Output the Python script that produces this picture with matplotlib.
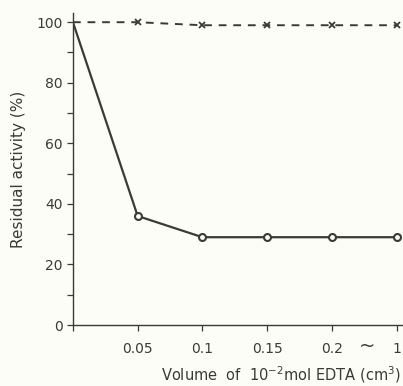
import matplotlib.pyplot as plt
from matplotlib.ticker import MultipleLocator

# Volumen de EDTA (posiciones equiespaciadas en el eje)
etiquetas_x = ['', '0.05', '0.1', '0.15', '0.2', '1']
posiciones = [0, 1, 2, 3, 4, 5]

# Actividad residual (%)
con_edta = [100, 36, 29, 29, 29, 29]
control = [100, 100, 99, 99, 99, 99]

tinta = '#3a3a36'
papel = '#fdfdf8'

fig = plt.figure(figsize=(4.03, 3.86), dpi=100, facecolor=papel)
ax = fig.add_axes([0.181, 0.158, 0.819, 0.808], facecolor=papel)

# Curva de control (discontinua, marcadores x)
ax.plot(posiciones, control, color=tinta, linestyle=(0, (4, 3.5)), linewidth=1.4)
ax.plot(posiciones[1:], control[1:], linestyle='none', marker='x',
        markersize=5, markeredgewidth=1.3, color=tinta)

# Curva con EDTA (continua, círculos abiertos)
ax.plot(posiciones, con_edta, color=tinta, linewidth=1.6)
ax.plot(posiciones[1:], con_edta[1:], linestyle='none', marker='o',
        markersize=5, markerfacecolor=papel, markeredgewidth=1.5, color=tinta)

ax.set_xlim(0, 5.1)
ax.set_ylim(0, 103)
ax.set_xticks(posiciones)
ax.set_xticklabels(etiquetas_x)
ax.yaxis.set_major_locator(MultipleLocator(20))
ax.yaxis.set_minor_locator(MultipleLocator(10))

for lado in ['top', 'right']:
    ax.spines[lado].set_visible(False)
for lado in ['left', 'bottom']:
    ax.spines[lado].set_color(tinta)
    ax.spines[lado].set_linewidth(1.0)

ax.tick_params(axis='both', which='both', colors=tinta, labelsize=10,
               direction='out', length=4, width=0.9)
ax.tick_params(axis='x', pad=8)

# Símbolo de salto entre 0.2 y 1
ax.text(4.55, -0.068, '~', transform=ax.get_xaxis_transform(),
        ha='center', va='center', fontsize=14, color=tinta)

ax.set_ylabel('Residual activity (%)', fontsize=11, color=tinta, labelpad=7)
ax.set_xlabel('Volume  of  10$^{-2}$mol EDTA (cm$^{3}$)', fontsize=10.5,
              color=tinta)
ax.xaxis.label.set_verticalalignment('center')
ax.xaxis.set_label_coords(0.63, -0.158)

plt.savefig('out.png', dpi=100, facecolor=papel)
